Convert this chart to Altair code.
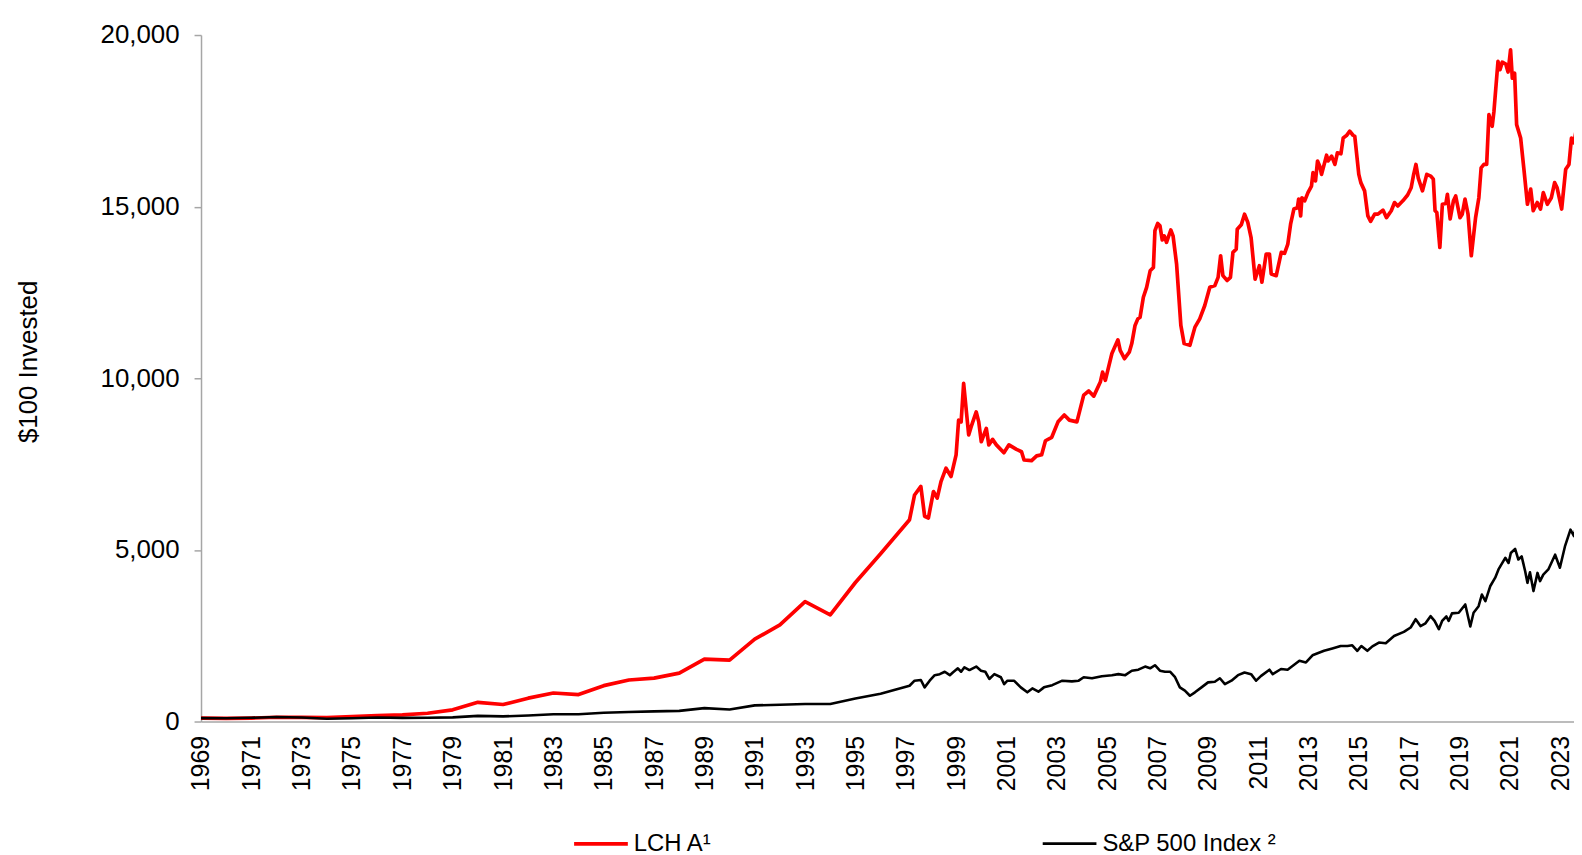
import altair as alt
import pandas as pd

# ---- data ----
lch_years = [1969, 1970, 1971, 1972, 1973, 1974, 1975, 1976, 1977, 1978, 1979, 1980, 1981, 1982,
             1983, 1984, 1985, 1986, 1987, 1988, 1989, 1990, 1991, 1992, 1993, 1994, 1995, 1996,
             1997.15, 1997.35, 1997.6, 1997.75, 1997.9, 1998.1, 1998.25, 1998.4, 1998.6, 1998.8,
             1999.0, 1999.1, 1999.2, 1999.3, 1999.5, 1999.6, 1999.8, 1999.9, 2000.0, 2000.2,
             2000.3, 2000.45, 2000.6, 2000.9, 2001.1, 2001.4, 2001.6, 2001.7, 2002.0, 2002.2,
             2002.4, 2002.55, 2002.8, 2003.05, 2003.3, 2003.5, 2003.8, 2004.07, 2004.27, 2004.47,
             2004.73, 2004.82, 2004.93, 2005.19, 2005.43, 2005.52, 2005.69, 2005.88, 2005.98,
             2006.11, 2006.22, 2006.31, 2006.44, 2006.57, 2006.71, 2006.84, 2006.9, 2007.01,
             2007.1, 2007.19, 2007.27, 2007.36, 2007.53, 2007.62, 2007.76, 2007.93, 2008.06,
             2008.29, 2008.49, 2008.68, 2008.88, 2009.08, 2009.28, 2009.41, 2009.51, 2009.6,
             2009.77, 2009.9, 2010.0, 2010.13, 2010.17, 2010.33, 2010.46, 2010.59, 2010.72,
             2010.88, 2011.05, 2011.15, 2011.32, 2011.45, 2011.52, 2011.72, 2011.92, 2012.05,
             2012.18, 2012.29, 2012.42, 2012.56, 2012.61, 2012.69, 2012.74, 2012.85, 2012.98,
             2013.12, 2013.18, 2013.28, 2013.36, 2013.45, 2013.52, 2013.72, 2013.78, 2013.92,
             2014.05, 2014.15, 2014.29, 2014.38, 2014.51, 2014.64, 2014.77, 2014.84, 2015.0,
             2015.08, 2015.23, 2015.36, 2015.47, 2015.63, 2015.76, 2015.96, 2016.1, 2016.29,
             2016.42, 2016.55, 2016.75, 2016.94, 2017.08, 2017.18, 2017.27, 2017.36, 2017.53,
             2017.7, 2017.86, 2017.96, 2018.03, 2018.1, 2018.22, 2018.32, 2018.46, 2018.52,
             2018.63, 2018.76, 2018.85, 2019.02, 2019.11, 2019.22, 2019.34, 2019.47, 2019.64,
             2019.77, 2019.86, 2019.97, 2020.08, 2020.17, 2020.3, 2020.37, 2020.53, 2020.61,
             2020.7, 2020.84, 2020.93, 2021.03, 2021.1, 2021.19, 2021.27, 2021.43, 2021.56,
             2021.7, 2021.83, 2021.93, 2022.09, 2022.22, 2022.33, 2022.49, 2022.65, 2022.78,
             2022.88, 2023.06, 2023.22, 2023.35, 2023.45, 2023.55, 2023.63]
lch_values = [100, 90, 100, 125, 120, 115, 145, 175, 195, 240, 340, 560, 495, 680,
              830, 785, 1045, 1210, 1265, 1410, 1820, 1790, 2400, 2815, 3490, 3110, 4050, 4890,
              5880, 6600, 6850, 5980, 5930, 6700, 6510, 6990, 7380, 7140,
              7770, 8780, 8730, 9850, 8350, 8590, 9020, 8730, 8150, 8540,
              8060, 8220, 8060, 7830, 8060, 7930, 7860, 7620, 7600, 7740,
              7770, 8180, 8280, 8730, 8930, 8780, 8730, 9510, 9630, 9480,
              9890, 10180, 9940, 10720, 11120, 10810, 10570, 10760, 11010,
              11540, 11730, 11780, 12360, 12650, 13130, 13230, 14300, 14510,
              14440, 14030, 14150, 13960, 14320, 14150, 13330, 11540, 11010,
              10960, 11490, 11730, 12120, 12650, 12700, 12940, 13570, 12990,
              12850, 12940, 13670, 13760, 14340, 14470, 14780, 14540, 14100,
              12890, 13280, 12800, 13620, 13620, 13040, 12990, 13670, 13640,
              13910, 14490, 14930, 14970, 15220, 14730, 15260, 15170, 15410,
              15600, 15990, 15750, 16330, 16180, 15940, 16500, 16330, 16470,
              16230, 16570, 16540, 17000, 17070, 17200, 17080, 17050, 15940,
              15700, 15460, 14730, 14570, 14780, 14780, 14900, 14680, 14880,
              15120, 15020, 15170, 15340, 15550, 15940, 16230, 15840, 15460,
              15940, 15890, 15800, 14880, 14830, 13810, 15070, 15090, 15360,
              14640, 15170, 15310, 14680, 14780, 15220, 14780, 13570, 14680,
              15260, 16130, 16230, 16230, 17680, 17340, 17780, 19230, 18990,
              19210, 19150, 18920, 19570, 18740, 18890, 17390, 17000, 16090,
              15070, 15510, 14880, 15120, 14930, 15410, 15070, 15260, 15700,
              15550, 14930, 16090, 16230, 17000, 16860, 17200]

sp_years = [1969, 1970, 1971, 1972, 1973, 1974, 1975, 1976, 1977, 1978, 1979, 1980, 1981, 1982,
            1983, 1984, 1985, 1986, 1987, 1988, 1989, 1990, 1991, 1992, 1993, 1994, 1995, 1996,
            1997.15, 1997.35, 1997.6, 1997.75, 1997.95, 1998.15, 1998.35, 1998.55, 1998.75,
            1998.87, 1999.07, 1999.2, 1999.33, 1999.53, 1999.8, 1999.99, 2000.16, 2000.32,
            2000.52, 2000.78, 2000.91, 2001.04, 2001.3, 2001.57, 2001.83, 2002.03, 2002.27,
            2002.49, 2002.82, 2003.22, 2003.6, 2003.87, 2004.07, 2004.4, 2004.79, 2005.19,
            2005.45, 2005.72, 2005.98, 2006.24, 2006.51, 2006.71, 2006.9, 2007.1, 2007.3,
            2007.5, 2007.7, 2007.89, 2008.09, 2008.29, 2008.49, 2008.75, 2009.01, 2009.28,
            2009.48, 2009.68, 2009.94, 2010.2, 2010.46, 2010.72, 2010.92, 2011.12, 2011.45,
            2011.58, 2011.91, 2012.17, 2012.64, 2012.9, 2013.16, 2013.62, 2013.95, 2014.28,
            2014.55, 2014.74, 2014.94, 2015.1, 2015.34, 2015.54, 2015.8, 2016.07, 2016.4,
            2016.79, 2017.06, 2017.26, 2017.45, 2017.65, 2017.85, 2018.01, 2018.18, 2018.31,
            2018.48, 2018.57, 2018.7, 2018.97, 2019.23, 2019.43, 2019.56, 2019.76, 2019.89,
            2020.03, 2020.22, 2020.42, 2020.55, 2020.82, 2020.95, 2021.04, 2021.21, 2021.34,
            2021.47, 2021.61, 2021.7, 2021.8, 2021.94, 2022.1, 2022.2, 2022.33, 2022.53,
            2022.8, 2022.99, 2023.19, 2023.41, 2023.55, 2023.6]
sp_values = [100, 95, 110, 130, 115, 80, 95, 115, 105, 110, 120, 165, 150, 175,
             210, 210, 255, 275, 295, 310, 390, 350, 470, 490, 510, 510, 670, 810,
             1042, 1190, 1210, 995, 1190, 1350, 1380, 1450, 1350,
             1430, 1550, 1450, 1580, 1500, 1600, 1480, 1450, 1240,
             1380, 1290, 1090, 1190, 1190, 995, 850, 965, 870,
             995, 1060, 1190, 1170, 1190, 1290, 1260, 1320, 1350,
             1380, 1350, 1480, 1510, 1600, 1550, 1640, 1480, 1450,
             1450, 1290, 995, 900, 750, 850, 995, 1140, 1160,
             1260, 1090, 1190, 1350, 1430, 1380, 1190, 1330, 1510,
             1380, 1530, 1510, 1770, 1720, 1930, 2060, 2130, 2200,
             2200, 2220, 2060, 2200, 2060, 2190, 2300, 2280, 2490,
             2610, 2740, 2980, 2780, 2860, 3070, 2930, 2690, 2930,
             3060, 2930, 3150, 3170, 3410, 2770, 3170, 3360, 3700,
             3510, 3940, 4190, 4430, 4770, 4620, 4910, 5030, 4720,
             4810, 4380, 4040, 4350, 3800, 4330, 4090, 4280, 4430,
             4860, 4480, 5100, 5590, 5400, 5590]

series_names = ["LCH A\u00b9", "S&P 500 Index \u00b2"]
series_colors = ["#FF0000", "#000000"]
series_widths = [3.7, 2.6]
x_tick_years = list(range(1969, 2024, 2))
y_ticks = [0, 5000, 10000, 15000, 20000]

df = pd.concat([
    pd.DataFrame({"series": series_names[0], "year": lch_years, "value": lch_values, "order": range(len(lch_years))}),
    pd.DataFrame({"series": series_names[1], "year": sp_years, "value": sp_values, "order": range(len(sp_years))}),
])

FONT = "Liberation Sans"
AXIS_GRAY = "#a6a6a6"

chart = alt.Chart(df).mark_line(clip=True, strokeJoin="round").encode(
    x=alt.X("year:Q",
            scale=alt.Scale(domain=[1969, 2023.55], nice=False, zero=False),
            axis=alt.Axis(values=x_tick_years, format="d", labelAngle=270, labelFontSize=25,
                          labelFont=FONT, labelColor="#000000", labelPadding=14, ticks=False,
                          grid=False, domainColor=AXIS_GRAY, domainWidth=1.5, title=None,
                          labelOverlap=False, labelFlush=False)),
    y=alt.Y("value:Q",
            scale=alt.Scale(domain=[0, 20000], nice=False),
            axis=alt.Axis(values=y_ticks, format=",.0f", labelFontSize=26, labelFont=FONT,
                          labelColor="#000000", labelPadding=15, tickSize=7,
                          tickColor=AXIS_GRAY, tickWidth=1.5, domainColor=AXIS_GRAY,
                          domainWidth=1.5, grid=False, title="$100 Invested",
                          titleFont=FONT, titleFontSize=26, titleFontWeight="normal",
                          titleColor="#000000", titleAngle=270, titleX=-173, titleY=328,
                          titleAlign="center", titleBaseline="middle", labelFlush=False)),
    color=alt.Color("series:N",
                    scale=alt.Scale(domain=series_names, range=series_colors),
                    sort=series_names,
                    legend=alt.Legend(title=None, orient="none", legendX=373, legendY=784,
                                      direction="horizontal", columns=2, columnPadding=326,
                                      symbolType="stroke", symbolSize=2916,
                                      symbolStrokeWidth=3.5, labelFont=FONT,
                                      labelFontSize=24, labelColor="#000000",
                                      labelOffset=4, labelLimit=400, padding=0)),
    strokeWidth=alt.StrokeWidth("series:N",
                                scale=alt.Scale(domain=series_names, range=series_widths),
                                legend=None),
    order="order:Q",
).properties(
    width=1380,
    height=690,
    background="#ffffff",
    autosize=alt.AutoSizeParams(type="none"),
    padding={"left": 194, "top": 25, "right": 0, "bottom": 132},
).configure_view(stroke="transparent", strokeWidth=0)

chart.save("out.html", embed_options={"renderer": "svg", "actions": False})
